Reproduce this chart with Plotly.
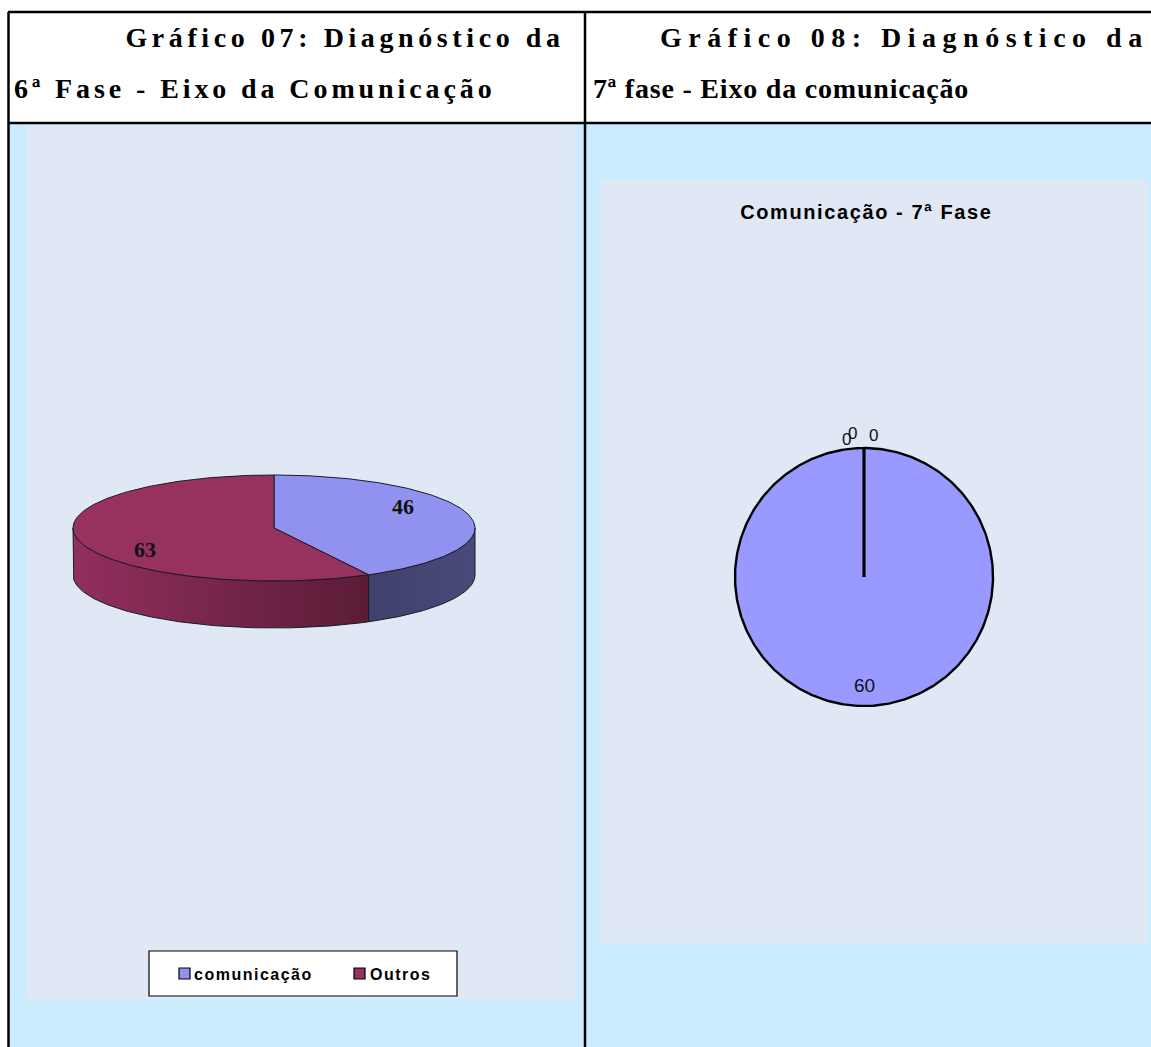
import math
import json
import plotly.graph_objects as go

# ---------------- data ----------------
header_titles = ["Gráfico 07: Diagnóstico da", "Gráfico 08: Diagnóstico da"]
header_subtitles = ["6ª Fase - Eixo da Comunicação", "7ª fase - Eixo da comunicação"]

pie1_labels = ["comunicação", "Outros"]
pie1_values = [46, 63]

chart2_title = "Comunicação - 7ª Fase"
pie2_labels = ["comunicação", "Outros", "Categoria 3", "Categoria 4"]
pie2_values = [60, 0, 0, 0]

# ---------------- style ----------------
W, H = 1151, 1047
CELL_BG = "#CCEBFF"
TEXTURE = "#E0E8F5"
pie1_top_colors = ["#9191F0", "#97325F"]
pie1_side_colors = [["#40406C", "#4A4A7A"], ["#922F5D", "#5A1C36"]]
pie2_colors = ["#9999FF", "#993366", "#FFFFCC", "#CCFFFF"]

# pie 1 (3-D) geometry
c1x, c1y, r1x, r1y, depth1 = 274, 528, 201, 53, 47
label1_frac = 0.66
label1_dy = [-13, 13]
# pie 2 geometry
c2x, c2y, r2 = 864, 577, 129
label2_inside_frac = 0.84
zero_label_offsets = [(-18, -9), (-12, -15), (9, -13)]

fig = go.Figure()


def arc(cx, cy, rx, ry, a0, a1, dy=0.0, step=math.pi / 180):
    n = max(2, int(abs(a1 - a0) / step) + 2)
    xs, ys = [], []
    for k in range(n):
        a = a0 + (a1 - a0) * k / (n - 1)
        xs.append(cx + rx * math.sin(a))
        ys.append(cy - ry * math.cos(a) + dy)
    return xs, ys


def slice_angles(values):
    tot = float(sum(values))
    out, cum = [], 0.0
    for v in values:
        a0 = 2 * math.pi * cum / tot
        cum += v
        a1 = 2 * math.pi * cum / tot
        out.append((a0, a1))
    return out


# ---------- pie 1 : sides ----------
ang1 = slice_angles(pie1_values)
for i, (a0, a1) in enumerate(ang1):
    s = max(a0, math.pi / 2)
    e = min(a1, 3 * math.pi / 2)
    if s < e:
        tx, ty = arc(c1x, c1y, r1x, r1y, s, e)
        bx, by = arc(c1x, c1y, r1x, r1y, e, s, dy=depth1)
        fig.add_trace(go.Scatter(
            x=tx + bx + [tx[0]], y=ty + by + [ty[0]], mode="lines", fill="toself",
            fillgradient=dict(type="horizontal",
                              colorscale=[[0, pie1_side_colors[i][0]], [1, pie1_side_colors[i][1]]]),
            line=dict(color="#1b1b28", width=1), hoverinfo="skip", showlegend=False))

# ---------- pie 1 : top faces ----------
for i, (a0, a1) in enumerate(ang1):
    ax, ay = arc(c1x, c1y, r1x, r1y, a0, a1)
    fig.add_trace(go.Scatter(
        x=[c1x] + ax + [c1x], y=[c1y] + ay + [c1y], mode="lines", fill="toself",
        fillcolor=pie1_top_colors[i], line=dict(color="#1b1b28", width=1),
        hoverinfo="skip", showlegend=False))

annotations = []
for i, (a0, a1) in enumerate(ang1):
    m = (a0 + a1) / 2
    annotations.append(dict(
        x=c1x + r1x * label1_frac * math.sin(m),
        y=c1y - r1y * label1_frac * math.cos(m) + label1_dy[i],
        text=str(pie1_values[i]), showarrow=False, xref="x", yref="y",
        font=dict(family="Liberation Serif", size=22, color="#111111", weight="bold")))

# ---------- pie 2 ----------
ang2 = slice_angles(pie2_values)
for i, (a0, a1) in enumerate(ang2):
    ax, ay = arc(c2x, c2y, r2, r2, a0, a1)
    fig.add_trace(go.Scatter(
        x=[c2x] + ax + [c2x], y=[c2y] + ay + [c2y], mode="lines", fill="toself",
        fillcolor=pie2_colors[i], line=dict(color="#000000", width=2.4),
        hoverinfo="skip", showlegend=False))

zi = 0
for i, (a0, a1) in enumerate(ang2):
    m = (a0 + a1) / 2
    if pie2_values[i] > 0:
        lx = c2x + r2 * label2_inside_frac * math.sin(m)
        ly = c2y - r2 * label2_inside_frac * math.cos(m)
        fsize = 19
    else:
        ox, oy = zero_label_offsets[zi % len(zero_label_offsets)]
        zi += 1
        lx = c2x + r2 * math.sin(m) + ox
        ly = c2y - r2 * math.cos(m) + oy
        fsize = 17
    annotations.append(dict(
        x=lx, y=ly, text=str(pie2_values[i]), showarrow=False, xref="x", yref="y",
        font=dict(family="Liberation Sans", size=fsize, color="#111111")))

annotations.append(dict(
    x=866, y=212, text=chart2_title, showarrow=False, xref="x", yref="y",
    font=dict(family="Liberation Sans", size=20, color="#000000", weight="bold")))

# ---------- headers ----------
hfont = dict(family="Liberation Serif", size=28, color="#000000", weight="bold")
annotations += [
    dict(x=567, y=37, text=header_titles[0], xanchor="right", align="right", showarrow=False,
         xref="x", yref="y", font=hfont),
    dict(x=12, y=88, text=header_subtitles[0], xanchor="left", align="left", showarrow=False,
         xref="x", yref="y", font=hfont),
    dict(x=1151, y=37, text=header_titles[1], xanchor="right", align="right", showarrow=False,
         xref="x", yref="y", font=hfont),
    dict(x=591, y=88, text=header_subtitles[1], xanchor="left", align="left", showarrow=False,
         xref="x", yref="y", font=hfont),
]

# ---------- cells, textures, legend ----------
shapes = [
    dict(type="rect", x0=8, x1=585, y0=123, y1=H, fillcolor=CELL_BG, line_width=0, layer="below"),
    dict(type="rect", x0=585, x1=W, y0=123, y1=H, fillcolor=CELL_BG, line_width=0, layer="below"),
    dict(type="rect", x0=26, x1=575, y0=125, y1=999, fillcolor=TEXTURE, line_width=0, layer="below"),
    dict(type="rect", x0=601, x1=1148, y0=180, y1=943, fillcolor=TEXTURE, line_width=0, layer="below"),
    dict(type="rect", x0=149, x1=457, y0=951, y1=996, fillcolor="#FFFFFF",
         line=dict(color="#000000", width=1.2), layer="above"),
]
leg_sq_x = [179, 354]
leg_tx_x = [192, 368]
for i, lab in enumerate(pie1_labels):
    shapes.append(dict(type="rect", x0=leg_sq_x[i], x1=leg_sq_x[i] + 11, y0=968, y1=979,
                       fillcolor=pie1_top_colors[i], line=dict(color="#000000", width=1.2),
                       layer="above"))
    annotations.append(dict(x=leg_tx_x[i], y=974, text=lab, xanchor="left", align="left",
                            showarrow=False, xref="x", yref="y",
                            font=dict(family="Liberation Sans", size=16, color="#000000",
                                      weight="bold")))

# table borders
bl = dict(color="#000000", width=2.5)
shapes += [
    dict(type="line", x0=8, x1=W, y0=12, y1=12, line=bl, layer="above"),
    dict(type="line", x0=8, x1=W, y0=123, y1=123, line=bl, layer="above"),
    dict(type="line", x0=8.5, x1=8.5, y0=12, y1=H, line=bl, layer="above"),
    dict(type="line", x0=585, x1=585, y0=12, y1=H, line=bl, layer="above"),
]

fig.update_layout(
    width=W, height=H, margin=dict(l=0, r=0, t=0, b=0),
    paper_bgcolor="#FFFFFF", plot_bgcolor="rgba(0,0,0,0)",
    xaxis=dict(range=[0, W], visible=False, fixedrange=True, domain=[0, 1]),
    yaxis=dict(range=[H, 0], visible=False, fixedrange=True, domain=[0, 1]),
    shapes=shapes, annotations=annotations, showlegend=False,
)

# letter spacing (px) of the header / chart texts
spacing = {header_titles[0]: 4.6, header_titles[1]: 6.5,
           header_subtitles[0]: 3.9, header_subtitles[1]: 0.8,
           chart2_title: 1.6, pie1_labels[0]: 1.5, pie1_labels[1]: 1.5}
js = """
(function(){
  document.body.style.margin = '0';
  document.body.style.padding = '0';
  document.documentElement.style.overflow = 'hidden';
  var m = %s;
  function ls(){
    var gd = document.getElementById('{plot_id}');
    if(!gd) return;
    gd.querySelectorAll('text').forEach(function(t){
      var s = m[t.textContent];
      if (s !== undefined) { t.style.letterSpacing = s + 'px'; }
    });
  }
  ls(); setTimeout(ls, 50); setTimeout(ls, 300);
})();
""" % json.dumps(spacing, ensure_ascii=False)

fig.write_html("out.html", post_script=js, config={"displayModeBar": False})
